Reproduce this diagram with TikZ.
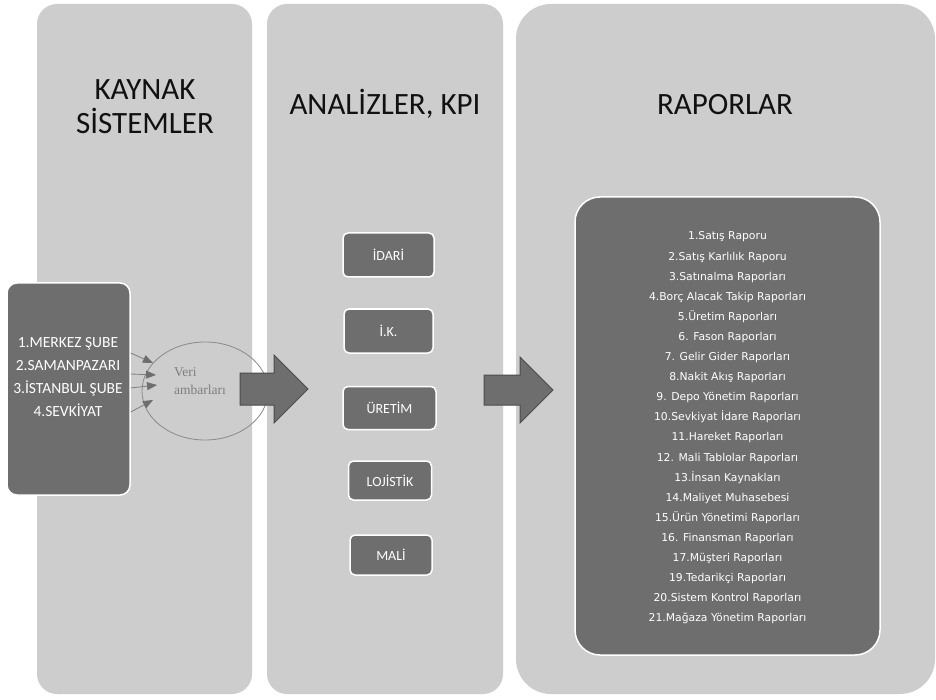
\documentclass[tikz,border=0pt]{standalone}
\usepackage{fontspec}
\setmainfont{Carlito}
\newfontfamily\repfont{DejaVu Sans}
\newfontfamily\serifb{Liberation Serif}
\usetikzlibrary{shapes.geometric,arrows.meta,calc}
\definecolor{panelgray}{HTML}{CDCDCD}
\definecolor{darkbox}{HTML}{6E6E6E}
\definecolor{arrowline}{HTML}{4C4C4C}
\definecolor{thinline}{HTML}{7E7E7E}
\definecolor{ellline}{HTML}{8A8A8A}
\definecolor{titlecol}{HTML}{111111}
\tikzset{
  panelbox/.style={fill=panelgray, draw=none, inner sep=0pt, rectangle},
  darkrect/.style={fill=darkbox, draw=white, line width=1.5pt, inner sep=0pt, rectangle, text=white},
  titletext/.style={text=titlecol, font=\fontsize{31}{34}\selectfont, inner sep=0pt, anchor=base},
  kpibox/.style={darkrect, rounded corners=5pt, font=\fontsize{14}{16}\selectfont},
  bigarrow/.style={fill=darkbox, draw=arrowline, line width=1pt, line join=miter},
  smallarrow/.style={draw=thinline, line width=0.8pt, -{Triangle[length=10pt,width=8pt,fill=darkbox,color=darkbox]}},
}
\begin{document}
\begin{tikzpicture}[x=1pt,y=-1pt]
\useasboundingbox (0,0) rectangle (936,700);
\fill[white] (0,0) rectangle (936,700);

% panels
\node[panelbox, rounded corners=20pt, minimum width=215pt, minimum height=690pt] (p1) at (144.5,349) {};
\node[panelbox, rounded corners=20pt, minimum width=236pt, minimum height=690pt] (p2) at (385,349) {};
\node[panelbox, rounded corners=35pt, minimum width=419pt, minimum height=690pt] (p3) at (725.5,349) {};

% titles
\node[titletext] (t1a) at (145,100) {KAYNAK};
\node[titletext] (t1b) at (145,134) {SİSTEMLER};
\node[titletext] (t2) at (385,115) {ANALİZLER, KPI};
\node[titletext] (t3) at (725,115) {RAPORLAR};

% source box
\node[darkrect, rounded corners=10pt, minimum width=123pt, minimum height=212pt] (src) at (68.5,389) {};
\node[text=white, align=center, inner sep=0pt, font=\fontsize{15.5}{23.3}\selectfont] (srctext) at (68,377)
  {1.MERKEZ ŞUBE\\2.SAMANPAZARI\\3.İSTANBUL ŞUBE\\4.SEVKİYAT};

% data warehouse ellipse
\node[ellipse, draw=ellline, line width=0.8pt, minimum width=126pt, minimum height=98pt, inner sep=0pt] (dw) at (205,391) {};
\node[anchor=west, align=left, inner sep=0pt, text=thinline, font=\serifb\fontsize{13.5}{18}\selectfont] (dwtext) at (174,381) {Veri\\ambarları};

% small arrows from sources into warehouse
\coordinate (h1) at (153,363);
\coordinate (h2) at (156,375);
\coordinate (h3) at (157,385);
\coordinate (h4) at (153,400);
\draw[smallarrow] (src.east |- 0,353) -- (h1);
\draw[smallarrow] (src.east |- 0,374) -- (h2);
\draw[smallarrow] (src.east |- 0,388) -- (h3);
\draw[smallarrow] (src.east |- 0,412) -- (h4);

% big arrows
\draw[bigarrow] (240,373) -- (274,373) -- (274,355) -- (308,389) -- (274,423) -- (274,405) -- (240,405) -- cycle;
\draw[bigarrow] (484,375) -- (520,375) -- (520,357) -- (553,390) -- (520,423) -- (520,405) -- (484,405) -- cycle;

% KPI boxes
\node[kpibox, minimum width=91pt, minimum height=44pt] (idari) at (388.5,255) {İDARİ};
\node[kpibox, minimum width=89pt, minimum height=44pt] (ik) at (388.5,331) {İ.K.};
\node[kpibox, minimum width=93pt, minimum height=43pt] (uretim) at (389.5,408) {ÜRETİM};
\node[kpibox, minimum width=83pt, minimum height=39pt] (lojistik) at (390,480.5) {LOJİSTİK};
\node[kpibox, minimum width=82pt, minimum height=40pt] (mali) at (391,555) {MALİ};

% reports box
\node[darkrect, rounded corners=25pt, minimum width=305pt, minimum height=458pt] (rep) at (727.5,426) {};
\node[text=white, align=center, inner sep=0pt, font=\repfont\fontsize{10.8}{20.1}\selectfont] (reptext) at (727.5,428)
  {1.Satış Raporu\\
   2.Satış Karlılık Raporu\\
   3.Satınalma Raporları\\
   4.Borç Alacak Takip Raporları\\
   5.Üretim Raporları\\
   6. Fason Raporları\\
   7. Gelir Gider Raporları\\
   8.Nakit Akış Raporları\\
   9. Depo Yönetim Raporları\\
   10.Sevkiyat İdare Raporları\\
   11.Hareket Raporları\\
   12. Mali Tablolar Raporları\\
   13.İnsan Kaynakları\\
   14.Maliyet Muhasebesi\\
   15.Ürün Yönetimi Raporları\\
   16. Finansman Raporları\\
   17.Müşteri Raporları\\
   19.Tedarikçi Raporları\\
   20.Sistem Kontrol Raporları\\
   21.Mağaza Yönetim Raporları};
\end{tikzpicture}
\end{document}
